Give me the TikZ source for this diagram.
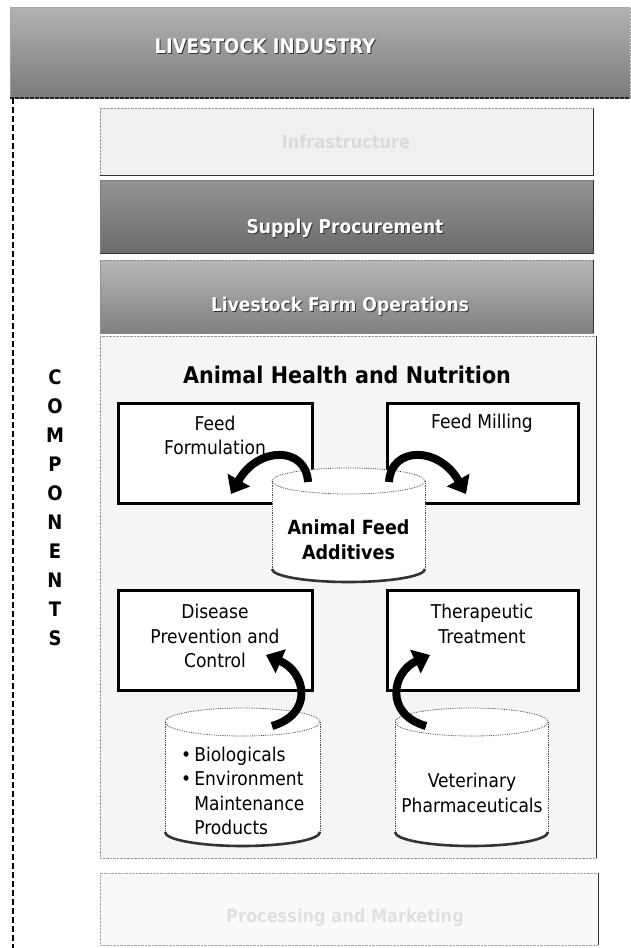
\documentclass[tikz,border=0pt]{standalone}
\usepackage{fontspec}
\setmainfont{DejaVu Sans}[FakeStretch=0.9]
\usetikzlibrary{arrows.meta}
\newcommand\mycyl[6]{%
  \pgfmathsetmacro\cylcx{(#2+#3)/2}%
  \pgfmathsetmacro\cylrx{(#3-#2)/2}%
  \fill[white] (#2,#4) -- (#2,#5) arc[start angle=180,end angle=0,x radius=\cylrx,y radius=#6]
     -- (#3,#4) arc[start angle=0,end angle=-180,x radius=\cylrx,y radius=#6] -- cycle;
  \draw[cylside] (#2,#4) -- (#2,#5) (#3,#4) -- (#3,#5);
  \draw[cylside] (\cylcx,#4) ellipse[x radius=\cylrx, y radius=#6];
  \draw[cylbase] (#2,#5) arc[start angle=180,end angle=0,x radius=\cylrx,y radius=#6];
  \coordinate (#1) at (\cylcx,{(#4+#5)/2});
}
\begin{document}
\begin{tikzpicture}[x=1pt,y=-1pt,
  reg/.style={font=\fontsize{19}{24.5}\selectfont, align=center, inner sep=0pt, text=black},
  boldtxt/.style={font=\fontsize{19.5}{25}\selectfont\bfseries, align=center, inner sep=0pt},
  bantxt/.style={font=\fontsize{20}{24}\selectfont\bfseries, text=white, inner sep=0pt},
  band/.style={rectangle, anchor=north west, inner sep=0pt, outer sep=0pt},
  thickbox/.style={draw=black, line width=3pt, fill=white, rectangle, inner sep=0pt, outer sep=0pt, anchor=north west, minimum width=194pt, minimum height=100pt},
  bigarrow/.style={draw=black, line width=8pt, -{Triangle[length=16pt,width=25pt]}},
  cylside/.style={draw=black!70, line width=0.8pt, densely dotted},
  cylbase/.style={draw=black!80, line width=2.6pt},
  edge/.style={draw=black!80, line width=1pt},
]
\useasboundingbox (0,0) rectangle (630,948);
\fill[white] (0,0) rectangle (630,948);

% top banner
\node[band, minimum width=620pt, minimum height=91pt, top color=black!30, bottom color=black!52, draw=black!35, densely dotted] (banner) at (10,7) {};
\draw[black!85, line width=1.5pt, dash pattern=on 4pt off 1pt] (banner.south west) -- (banner.south east);
\node[bantxt, text=black!80] (bantitleshadow) at (266,47) {LIVESTOCK INDUSTRY};
\node[bantxt] (bantitle) at (265,46) {LIVESTOCK INDUSTRY};

% left dashed line
\coordinate (vtop) at (13,98);
\coordinate (vbot) at (13,948);
\draw[dashed, dash pattern=on 6pt off 3pt, line width=1.3pt] (vtop) -- (vbot);

% bands
\node[band, minimum width=493pt, minimum height=67pt, fill=black!6, draw=black!40, densely dotted] (infra) at (100,108) {};
\draw[edge] (infra.north east) -- (infra.south east) -- (infra.south west);
\node[font=\fontsize{18}{24}\selectfont\bfseries, text=black!14, inner sep=0pt] (infratxt) at (346,142) {Infrastructure};

\node[band, minimum width=493pt, minimum height=73pt, top color=black!42, bottom color=black!58, draw=black!50] (supply) at (100,180) {};
\draw[edge] (supply.north east) -- (supply.south east) -- (supply.south west);
\node[bantxt, font=\fontsize{19}{24}\selectfont\bfseries, text=black!80] (supplytxtshadow) at (346,229) {Supply Procurement};
\node[bantxt, font=\fontsize{19}{24}\selectfont\bfseries] (supplytxt) at (345,228) {Supply Procurement};

\node[band, minimum width=493pt, minimum height=73pt, top color=black!28, bottom color=black!50, draw=black!45, densely dotted] (farm) at (100,260) {};
\draw[edge] (farm.north east) -- (farm.south east);
\node[bantxt, font=\fontsize{19}{24}\selectfont\bfseries, text=black!80] (farmtxtshadow) at (341,307) {Livestock Farm Operations};
\node[bantxt, font=\fontsize{19}{24}\selectfont\bfseries] (farmtxt) at (340,306) {Livestock Farm Operations};

% animal health area
\node[band, minimum width=496pt, minimum height=522pt, fill=black!4, draw=black!40, densely dotted] (ahn) at (100,336) {};
\draw[edge] (ahn.north east) -- (ahn.south east);
\node[font=\fontsize{23}{27}\selectfont\bfseries, inner sep=0pt] (ahntitle) at (347,375) {Animal Health and Nutrition};

% bottom band
\node[band, minimum width=498pt, minimum height=72pt, fill=black!2, draw=black!35, densely dotted] (bottomband) at (100,873) {};
\draw[edge] (bottomband.north east) -- (bottomband.south east);
\node[font=\fontsize{18}{24}\selectfont\bfseries, text=black!12, inner sep=0pt] (bottomtxt) at (345,918) {Processing and Marketing};

% COMPONENTS
\node[font=\fontsize{20}{29}\selectfont\bfseries, align=center, inner sep=0pt] (comp) at (55,508) {C\\O\\M\\P\\O\\N\\E\\N\\T\\S};

% boxes
\node[thickbox] (ff) at (118,403) {};
\node[thickbox, minimum width=191pt] (fm) at (387,403) {};
\node[thickbox] (dp) at (118,590) {};
\node[thickbox, minimum width=191pt] (tt) at (387,590) {};
\node[reg] (fftxt) at (215,435.5) {Feed\\Formulation};
\node[reg] (fmtxt) at (482,423) {Feed Milling};
\node[reg] (dptxt) at (215,636) {Disease\\Prevention and\\Control};
\node[reg] (tttxt) at (482,624) {Therapeutic\\Treatment};

% cylinders
\mycyl{cyla}{272}{425}{481}{569}{13}
\mycyl{cylb}{165}{320}{722}{832}{14}
\mycyl{cylc}{395}{548}{722}{832}{14}
\node[boldtxt] (cylatxt) at (348.5,540) {Animal Feed\\Additives};
\node[reg, align=left, anchor=west] (cylbtxt) at (181,791) {\textbullet\hspace{3pt}Biologicals\\\textbullet\hspace{3pt}Environment\\\phantom{\textbullet\hspace{3pt}}Maintenance\\\phantom{\textbullet\hspace{3pt}}Products};
\node[reg] (cylctxt) at (472,793) {Veterinary\\Pharmaceuticals};

% arrows
\coordinate (a1s) at (308,482);
\coordinate (a1e) at (231,494);
\coordinate (a2s) at (389,482);
\coordinate (a2e) at (466,494);
\coordinate (a3s) at (272,726);
\coordinate (a3e) at (266,655);
\coordinate (a4s) at (426,726);
\coordinate (a4e) at (430,655);
\draw[bigarrow] (a1s) .. controls (306,446) and (258,446) .. (a1e);
\draw[bigarrow] (a2s) .. controls (391,446) and (439,446) .. (a2e);
\draw[bigarrow] (a3s) .. controls (314,714) and (306,672) .. (a3e);
\draw[bigarrow] (a4s) .. controls (384,714) and (392,672) .. (a4e);
\end{tikzpicture}
\end{document}
